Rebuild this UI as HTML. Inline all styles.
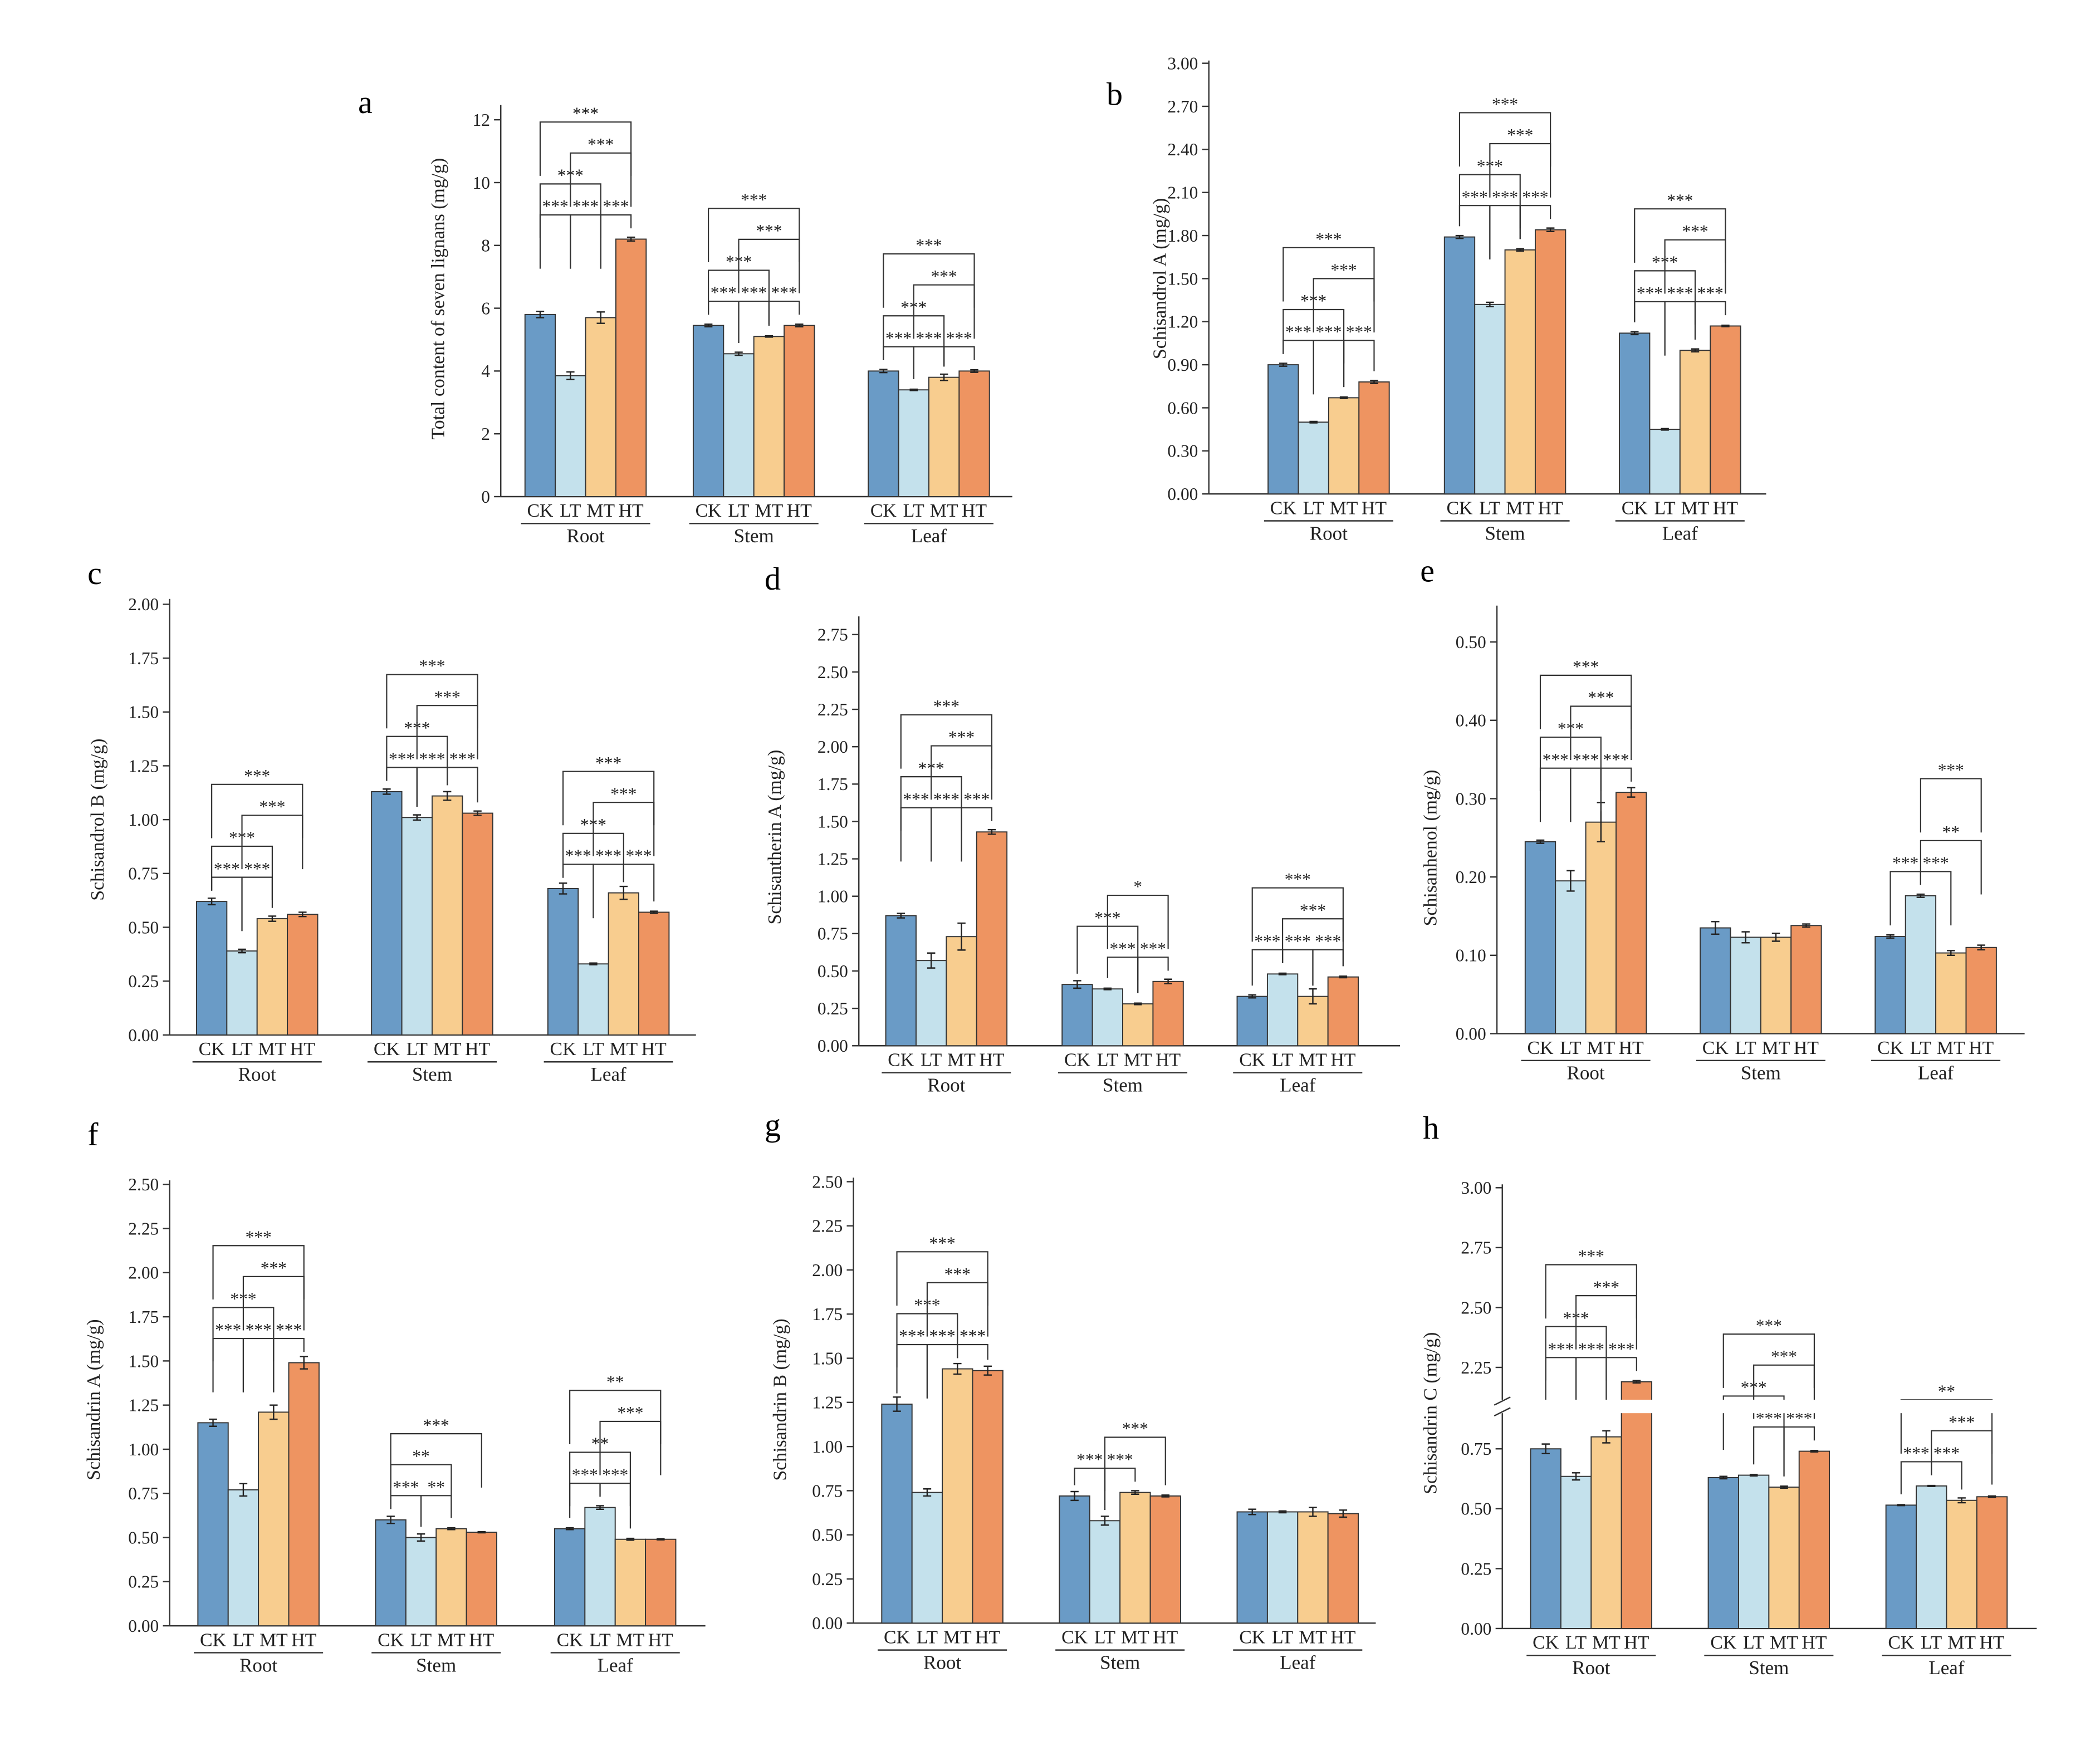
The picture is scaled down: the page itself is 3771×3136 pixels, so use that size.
<!DOCTYPE html>
<html><head><meta charset="utf-8"><style>
html,body{margin:0;padding:0;background:#fff;}
svg{display:block;font-family:"Liberation Serif",serif;}
</style></head><body>
<svg id="fig" width="3771" height="3136" viewBox="0 0 1560 1297.3" xmlns="http://www.w3.org/2000/svg"></svg>
<script>
const categories = ["CK","LT","MT","HT"];
const groups = ["Root","Stem","Leaf"];
const colors = ["#6a9bc6","#c4e1ec","#f8cd8f","#ee9461"];
const valA = [[5.8,3.85,5.7,8.2],[5.45,4.55,5.1,5.45],[4.0,3.4,3.8,4.0]];
const errA = [[0.1,0.12,0.18,0.06],[0.04,0.05,0.02,0.04],[0.05,0.02,0.1,0.04]];
const valB = [[0.90,0.50,0.67,0.78],[1.79,1.32,1.70,1.84],[1.12,0.45,1.00,1.17]];
const errB = [[0.01,0.005,0.005,0.01],[0.01,0.015,0.008,0.012],[0.01,0.005,0.01,0.005]];
const valC = [[0.62,0.39,0.54,0.56],[1.13,1.01,1.11,1.03],[0.68,0.33,0.66,0.57]];
const errC = [[0.015,0.008,0.012,0.01],[0.012,0.012,0.02,0.01],[0.025,0.004,0.03,0.005]];
const valD = [[0.87,0.57,0.73,1.43],[0.41,0.38,0.28,0.43],[0.33,0.48,0.33,0.46]];
const errD = [[0.015,0.05,0.09,0.015],[0.025,0.005,0.005,0.015],[0.01,0.005,0.05,0.005]];
const valE = [[0.245,0.195,0.27,0.308],[0.135,0.123,0.123,0.138],[0.124,0.176,0.103,0.110]];
const errE = [[0.002,0.013,0.025,0.006],[0.008,0.007,0.005,0.002],[0.002,0.002,0.003,0.003]];
const valF = [[1.15,0.77,1.21,1.49],[0.60,0.50,0.55,0.53],[0.55,0.67,0.49,0.49]];
const errF = [[0.02,0.035,0.04,0.035],[0.02,0.02,0.005,0.003],[0.005,0.01,0.005,0.003]];
const valG = [[1.24,0.74,1.44,1.43],[0.72,0.58,0.74,0.72],[0.63,0.63,0.63,0.62]];
const errG = [[0.04,0.02,0.03,0.025],[0.025,0.025,0.01,0.005],[0.015,0.005,0.025,0.02]];
const valH = [[0.75,0.635,0.80,2.19],[0.63,0.64,0.59,0.74],[0.515,0.595,0.535,0.55]];
const errH = [[0.02,0.015,0.025,0.005],[0.005,0.003,0.004,0.003],[0.002,0.002,0.01,0.003]];
const ticksA = [0,2,4,6,8,10,12];
const ticksB = [0,0.3,0.6,0.9,1.2,1.5,1.8,2.1,2.4,2.7,3.0];
const ticks25 = [0,0.25,0.5,0.75,1,1.25,1.5,1.75,2];
const ticksD = [0,0.25,0.5,0.75,1,1.25,1.5,1.75,2,2.25,2.5,2.75];
const ticksE = [0,0.1,0.2,0.3,0.4,0.5];
const ticksFG = [0,0.25,0.5,0.75,1,1.25,1.5,1.75,2,2.25,2.5];
const ticksHlow = [0,0.25,0.5,0.75];
const ticksHhigh = [2.25,2.5,2.75,3.0];

const svg=document.getElementById('fig');
const NS="http://www.w3.org/2000/svg";
function mk(tag,attrs,parent,text){const e=document.createElementNS(NS,tag);for(const k in attrs)e.setAttribute(k,attrs[k]);if(text!==undefined)e.textContent=text;(parent||svg).appendChild(e);return e;}

function panel(p){
  const g=mk('g',{});
  
  
  const L=mk('text',{x:p.lx,y:p.ly,'font-size':24},g,p.letter);
  
  
  const y=p.y;
  const ya=mk('line',{x1:p.ax,x2:p.ax,y1:p.top,y2:p.zero,stroke:'#333','stroke-width':1},g);
  
  
  const xa=mk('line',{x1:p.ax,x2:p.axEnd,y1:p.zero,y2:p.zero,stroke:'#333','stroke-width':1},g);
  
  
  p.ticks.forEach(t=>{
    const ty=y(t);
    mk('line',{x1:p.ax-5,x2:p.ax,y1:ty,y2:ty,stroke:'#333'},g);
    const tl=mk('text',{x:p.ax-8,y:ty+4.5,'font-size':13,'text-anchor':'end',fill:'#222'},g,p.fmt(t));
    
    
  });
  const yl=mk('text',{transform:`translate(${p.ylx},${p.yly}) rotate(-90)`,'font-size':14,'text-anchor':'middle',fill:'#222'},g,p.ylabel);
  
  
  const bw=22.5;
  p.vals.forEach((gv,gi)=>{
    const x0=p.starts[gi];
    gv.forEach((v,i)=>{
      const bx=x0+i*bw, by=y(v);
      const r=mk('rect',{x:bx,y:by,width:bw,height:p.zero-by,fill:colors[i],stroke:'#333','stroke-width':0.8},g);
      
      
      const e=p.errs[gi][i];
      const e1=y(v+e),e2=y(Math.max(0,v-e));
      const cx=bx+bw/2;
      mk('path',{d:`M${cx},${e1}V${e2}M${cx-3},${e1}H${cx+3}M${cx-3},${e2}H${cx+3}`,stroke:'#222','stroke-width':1,fill:'none'},g);
      const cl=mk('text',{x:cx,y:p.zero+15,'font-size':14,'text-anchor':'middle',fill:'#222'},g,categories[i]);
      
      
    });
    mk('line',{x1:x0-3,x2:x0+4*bw+3,y1:p.zero+20,y2:p.zero+20,stroke:'#333'},g);
    const gl=mk('text',{x:x0+2*bw,y:p.zero+34,'font-size':14.5,'text-anchor':'middle',fill:'#222'},g,groups[gi]);
    
    
    const br=(p.brackets&&p.brackets[gi])||[];
    const maxTop=Math.min(...gv.map(v=>y(v)));
    br.forEach(b=>{
      const [i,j,lvl,lab]=b;
      const hy=maxTop-18-lvl*23;
      const xi=x0+i*bw+bw/2, xj=x0+j*bw+bw/2;
      const li=Math.min(y(gv[i])-8,hy+40), lj=Math.min(y(gv[j])-8,hy+40);
      mk('path',{d:`M${xi},${li}V${hy}H${xj}V${lj}`,stroke:'#333','stroke-width':0.9,fill:'none'},g);
      const t=mk('text',{x:(xi+xj)/2,y:hy-2,'font-size':13,'text-anchor':'middle',fill:'#222'},g,lab);
      
      
    });
  });
  return g;
}
const full=[[0,1,0,'***'],[1,2,0,'***'],[2,3,0,'***'],[0,2,1,'***'],[1,3,2,'***'],[0,3,3,'***']];
const lin=(zero,top,tv)=>v=>zero-(v/tv)*(zero-top);
const f2=t=>t.toFixed(2);

panel({letter:'a',lx:266,ly:84,ax:372,axEnd:752,top:78,zero:369,y:lin(369,89,12),ticks:ticksA,fmt:t=>String(t),ylabel:'Total content of seven lignans (mg/g)',ylx:330,yly:222,starts:[390,515,645],vals:valA,errs:errA,brackets:[full,full,full]});
panel({letter:'b',lx:822,ly:78,ax:898,axEnd:1312,top:45,zero:367,y:lin(367,47,3),ticks:ticksB,fmt:f2,ylabel:'Schisandrol A  (mg/g)',ylx:866,yly:207,starts:[942,1073,1203],vals:valB,errs:errB,brackets:[full,full,full]});
panel({letter:'c',lx:65,ly:434,ax:126,axEnd:517,top:445,zero:769,y:lin(769,449,2),ticks:ticks25,fmt:f2,ylabel:'Schisandrol B  (mg/g)',ylx:77,yly:609,starts:[146,276,407],vals:valC,errs:errC,brackets:[[[0,1,0,'***'],[1,2,0,'***'],[0,2,1,'***'],[1,3,2,'***'],[0,3,3,'***']],full,full]});
panel({letter:'d',lx:568,ly:438,ax:638,axEnd:1040,top:458,zero:777,y:lin(777,471.5,2.75),ticks:ticksD,fmt:f2,ylabel:'Schisantherin A  (mg/g)',ylx:580,yly:622,starts:[658,789,919],vals:valD,errs:errD,brackets:[full,[[1,2,0,'***'],[2,3,0,'***'],[0,2,1,'***'],[1,3,2,'*']],[[0,1,0,'***'],[1,2,0,'***'],[2,3,0,'***'],[1,3,1,'***'],[0,3,2,'***']]]});
panel({letter:'e',lx:1055,ly:432,ax:1112,axEnd:1504,top:450,zero:768,y:lin(768,477,0.5),ticks:ticksE,fmt:f2,ylabel:'Schisanhenol (mg/g)',ylx:1067,yly:630,starts:[1133,1263,1393],vals:valE,errs:errE,brackets:[full,[],[[0,1,0,'***'],[1,2,0,'***'],[1,3,1,'**'],[1,3,3,'***']]]});
panel({letter:'f',lx:65,ly:851,ax:126,axEnd:524,top:877,zero:1208,y:lin(1208,880,2.5),ticks:ticksFG,fmt:f2,ylabel:'Schisandrin A (mg/g)',ylx:74,yly:1040,starts:[147,279,412],vals:valF,errs:errF,brackets:[full,[[0,1,0,'***'],[1,2,0,'**'],[0,2,1,'**'],[0,3,2,'***']],[[0,1,0,'***'],[1,2,0,'***'],[0,2,1,'**'],[1,3,2,'***'],[0,3,3,'**']]]});
panel({letter:'g',lx:568,ly:844,ax:634,axEnd:1022,top:875,zero:1206,y:lin(1206,878,2.5),ticks:ticksFG,fmt:f2,ylabel:'Schisandrin B  (mg/g)',ylx:584,yly:1040,starts:[655,787,919],vals:valG,errs:errG,brackets:[full,[[0,1,0,'***'],[1,2,0,'***'],[1,3,1,'***']],[]]});
const yH=v=> v<=1 ? 1210-v*178 : 1016-(v-2.25)*178;
const gh=panel({letter:'h',lx:1057,ly:846,ax:1116,axEnd:1513,top:880,zero:1210,y:yH,ticks:ticksHlow.concat(ticksHhigh),fmt:f2,ylabel:'Schisandrin C  (mg/g)',ylx:1067,yly:1050,starts:[1137,1269,1401],vals:valH,errs:errH,brackets:[full,[[1,2,0,'***'],[2,3,0,'***'],[0,2,1,'***'],[1,3,2,'***'],[0,3,3,'***']],[[0,1,0,'***'],[1,2,0,'***'],[1,3,1,'***'],[0,3,2,'**']]]});
const brk=mk('rect',{x:1105,y:1040,width:420,height:10,fill:'#fff'},gh);


mk('path',{d:'M1110,1044 L1122,1038 M1110,1052 L1122,1046',stroke:'#333','stroke-width':1,fill:'none'},gh);
</script>
</body></html>
